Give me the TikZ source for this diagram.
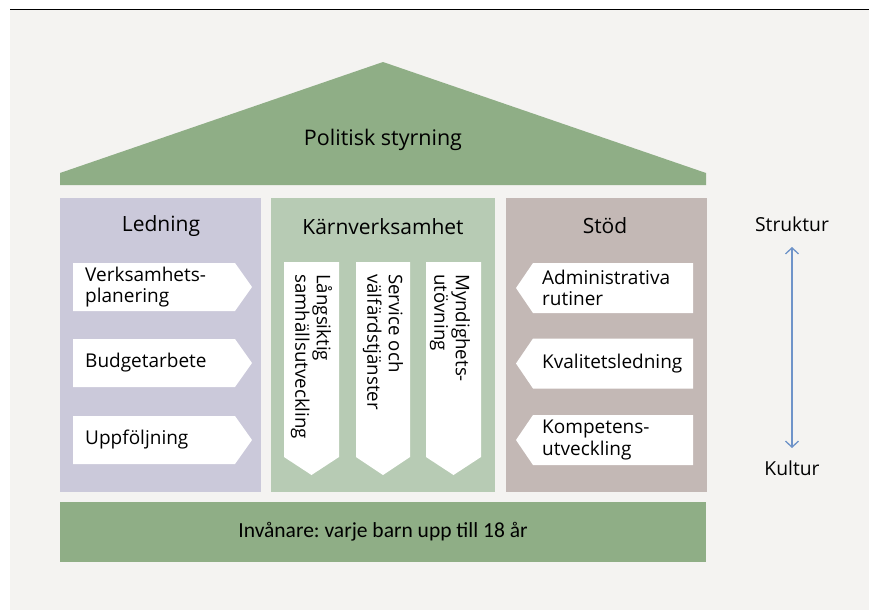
\documentclass[tikz,border=0pt]{standalone}
\usepackage{fontspec}
\setmainfont{Open Sans}
\newfontfamily\carl{Carlito}
\usetikzlibrary{arrows.meta}
\frenchspacing
\definecolor{bgc}{HTML}{F4F3F1}
\definecolor{roofc}{HTML}{8FAE86}
\definecolor{ledc}{HTML}{CBC9DA}
\definecolor{karnc}{HTML}{B7CBB4}
\definecolor{stodc}{HTML}{C3B8B5}
\definecolor{arrc}{HTML}{6E93C9}
\tikzset{
  head/.style={font=\fontsize{21}{25}\selectfont, inner sep=0pt},
  boxtxt/.style={font=\fontsize{19}{21.5}\selectfont, align=left, inner sep=0pt, anchor=west},
  vtxt/.style={font=\fontsize{18.7}{21.5}\selectfont, align=left, inner sep=0pt, anchor=west, rotate=-90},
  side/.style={font=\fontsize{19.3}{23}\selectfont, inner sep=0pt},
}
\begin{document}
\begin{tikzpicture}[x=1pt,y=-1pt]
\useasboundingbox (0,0) rectangle (869,610);
\fill[white] (0,0) rectangle (869,610);
\fill[bgc] (10,10) rectangle (869,610);
\draw[line width=1.6pt, black] (10,9.5) -- (869,9.5);
% roof
\fill[roofc] (60,185) -- (60,173) -- (383,62) -- (706,173) -- (706,185) -- cycle;
\node[font=\fontsize{21.5}{25}\selectfont, inner sep=0pt] (roof) at (383,140) {Politisk styrning};
% base
\fill[roofc] (60,502) rectangle (706,562);
\node[font=\carl\fontsize{21.5}{25}\selectfont, inner sep=0pt] (base) at (383,532) {\frenchspacing Invånare: varje barn upp till 18 år};
% columns
\fill[ledc] (60,198) rectangle (261,492);
\fill[karnc] (271,198) rectangle (495,492);
\fill[stodc] (506,198) rectangle (707,492);
\node[head] (led) at (161,226) {Ledning};
\node[head] (karn) at (383,227) {Kärnverksamhet};
\node[head] (stod) at (605,226) {Stöd};
% Ledning arrows
\foreach \c in {287,363,440}{
  \fill[white] (73,\c-24) -- (235,\c-24) -- (252,\c) -- (235,\c+24) -- (73,\c+24) -- cycle;
}
\node[boxtxt] (l1) at (85,287) {Verksamhets-\\planering};
\node[boxtxt] (l2) at (85,363) {Budgetarbete};
\node[boxtxt] (l3) at (85,440) {Uppföljning};
% Stöd arrows
\foreach \c in {288,363.5,440}{
  \fill[white] (516,\c) -- (533,\c-25) -- (693,\c-25) -- (693,\c+25) -- (533,\c+25) -- cycle;
}
\node[boxtxt] (s1) at (542,288) {Administrativa\\rutiner};
\node[boxtxt] (s2) at (542,363.5) {Kvalitetsledning};
\node[boxtxt] (s3) at (542,440) {Kompetens-\\utveckling};
% Kärn arrows
\foreach \a/\b in {284/339,356/410,426/481}{
  \fill[white] (\a,262) -- (\b,262) -- (\b,457) -- ({(\a+\b)/2},475) -- (\a,457) -- cycle;
}
\node[vtxt] (k1) at (311.5,274) {Långsiktig\\samhällsutveckling};
\node[vtxt] (k2) at (383,274) {Service och\\välfärdstjänster};
\node[vtxt] (k3) at (450,274) {Myndighets-\\utövning};
% side arrow
\node[side] (struk) at (792,224) {Struktur};
\node[side] (kult) at (792,468) {Kultur};
\draw[arrc, line width=1.3pt, {Straight Barb[length=6pt,width=13pt]}-{Straight Barb[length=6pt,width=13pt]}] (792,247) -- (792,448);
\end{tikzpicture}
\end{document}
